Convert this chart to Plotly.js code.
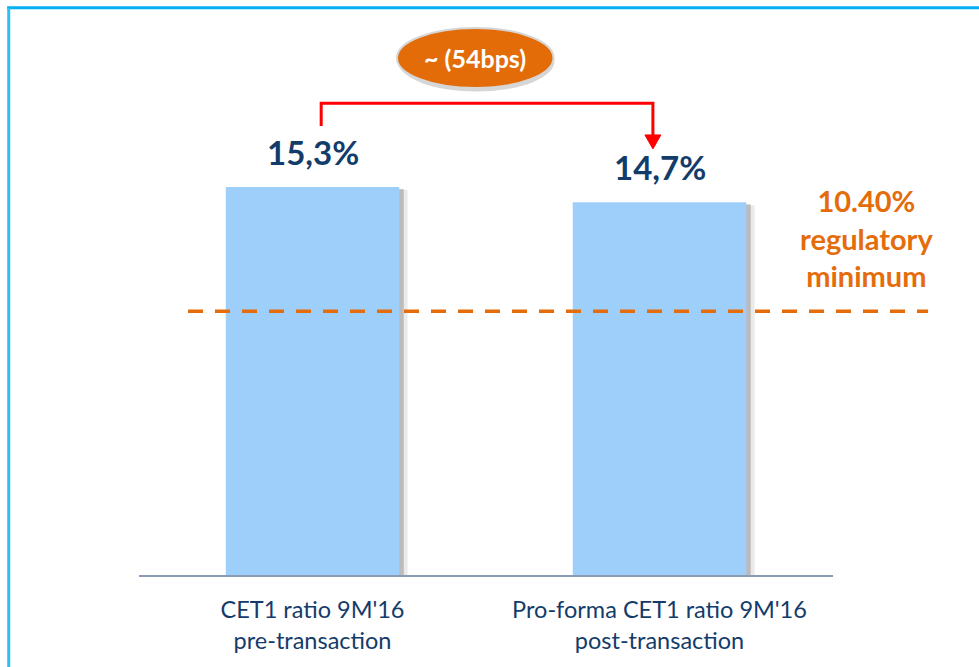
<!DOCTYPE html>
<html>
<head>
<meta charset="utf-8">
<script src="https://cdn.plot.ly/plotly-3.0.1.min.js"></script>
<style>html,body{margin:0;padding:0;background:#fff;}#chart{width:979px;height:667px;}</style>
</head>
<body>
<div id="chart"></div>
<script>
// ---- data ----
var categories = ["CET1 ratio 9M'16<br>pre-transaction", "Pro-forma CET1 ratio 9M'16<br>post-transaction"];
var values = [15.3, 14.7];
var regMin = 10.4;
var deltaLabel = "~ (54bps)";
var regLabelWords = ["regulatory", "minimum"];

var xIdx = categories.map(function (c, i) { return i; });
var fmt = function (v) { return v.toFixed(1).replace('.', ',') + '%'; };

var navy = '#143c6a';
var orange = '#e46c0a';
var barBlue = '#9ecffb';
var fontFam = 'Lato, "Open Sans", "DejaVu Sans", sans-serif';

var traces = [
  { type: 'bar', x: xIdx, y: values, base: -0.12, width: 0.5, offset: -0.25 + 0.024,
    marker: { color: 'rgba(80,80,80,0.12)' }, hoverinfo: 'skip', showlegend: false },
  { type: 'bar', x: xIdx, y: values, base: -0.08, width: 0.5, offset: -0.25 + 0.013,
    marker: { color: 'rgba(80,80,80,0.30)' }, hoverinfo: 'skip', showlegend: false },
  { type: 'bar', x: xIdx, y: values, width: 0.5, offset: -0.25,
    marker: { color: barBlue, line: { width: 0 } }, showlegend: false }
];

var annotations = values.map(function (v, i) {
  return { x: i, y: v, xref: 'x', yref: 'y', text: '<b>' + fmt(v) + '</b>', showarrow: false,
    yanchor: 'middle', yshift: 35, font: { family: fontFam, size: 33, color: navy } };
});
annotations.push({ x: 1.048, xref: 'paper', y: regMin, yref: 'y', yshift: 73,
  text: '<b>' + regMin.toFixed(2) + '%<br>' + regLabelWords.join('<br>') + '</b>',
  showarrow: false, yanchor: 'middle', xanchor: 'center', align: 'center',
  font: { family: fontFam, size: 29, color: orange } });
annotations.push({ x: 0.469, y: 20.39, xref: 'x', yref: 'y', text: '<b>' + deltaLabel + '</b>',
  showarrow: false, yanchor: 'middle', font: { family: fontFam, size: 25, color: '#ffffff' } });

var shapes = [
  // frame
  { type: 'line', xref: 'paper', yref: 'paper', x0: -0.19, x1: 1.22, y0: 1.0165, y1: 1.0165,
    line: { color: '#00b0f0', width: 3 } },
  { type: 'line', xref: 'paper', yref: 'paper', x0: -0.1877, x1: -0.1877, y0: 1.0165, y1: -0.2,
    line: { color: '#2cc0f2', width: 3 } },
  // regulatory minimum dashed line
  { type: 'line', xref: 'paper', yref: 'y', x0: 0.0706, x1: 1.137, y0: regMin, y1: regMin,
    line: { color: orange, width: 3.5, dash: '15px,12px' } },
  // bracket connector
  { type: 'path', xref: 'x', yref: 'y', path: 'M 0.025,17.7 L 0.025,18.6 L 0.981,18.6 L 0.981,17.35',
    line: { color: '#ff0000', width: 3 } },
  { type: 'path', xref: 'x', yref: 'y', path: 'M 0.958,17.35 L 1.004,17.35 L 0.981,16.8 Z',
    fillcolor: '#ff0000', line: { color: '#ff0000', width: 1 } },
  // ellipse shadow + ellipse
  { type: 'circle', xref: 'x', yref: 'y', x0: 0.2465, x1: 0.6975, y0: 19.06, y1: 21.45,
    fillcolor: 'rgba(0,0,0,0.16)', line: { width: 0 } },
  { type: 'circle', xref: 'x', yref: 'y', x0: 0.2435, x1: 0.6945, y0: 19.2, y1: 21.57,
    fillcolor: '#e36c09', line: { color: '#d6d6d6', width: 2 } }
];

var layout = {
  width: 979, height: 667,
  margin: { l: 139, r: 146, t: 17, b: 92 },
  paper_bgcolor: '#ffffff', plot_bgcolor: '#ffffff',
  barmode: 'overlay', showlegend: false,
  xaxis: { range: [-0.5, 1.5], tickvals: xIdx, ticktext: categories, showgrid: false, zeroline: false,
    showline: true, linecolor: '#8a9bb3', linewidth: 2, ticks: '', ticklabelstandoff: 13,
    tickfont: { family: fontFam, size: 23.5, color: navy }, fixedrange: true },
  yaxis: { range: [0, 22], visible: false, showgrid: false, zeroline: false, fixedrange: true },
  annotations: annotations,
  shapes: shapes
};

Plotly.newPlot('chart', traces, layout, { displayModeBar: false, staticPlot: true });
</script>
</body>
</html>
